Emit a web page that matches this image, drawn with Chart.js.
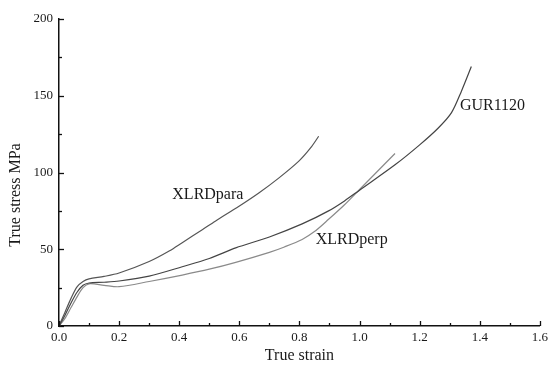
<!DOCTYPE html>
<html><head><meta charset="utf-8">
<script src="https://cdn.jsdelivr.net/npm/chart.js@4/dist/chart.umd.min.js"></script>
<style>html,body{margin:0;padding:0;background:#fff}#wrap{width:552px;height:367px}</style>
</head><body><div id="wrap"><canvas id="c" width="552" height="367"></canvas></div>
<script>
// ---- data ----
const strainPara = [0, 0.02, 0.04, 0.06, 0.08, 0.10, 0.15, 0.20, 0.30, 0.368, 0.41, 0.478, 0.52, 0.599, 0.666, 0.732, 0.798, 0.837, 0.864];
const stressPara = [0, 9, 18, 25.5, 29, 30.7, 32.3, 34.5, 42, 49, 54.3, 62.9, 68.3, 78, 86.8, 96.5, 107.4, 116, 123.6];

const strainGur = [0, 0.02, 0.04, 0.06, 0.08, 0.10, 0.15, 0.20, 0.30, 0.41, 0.50, 0.588, 0.70, 0.809, 0.897, 0.95, 1.0, 1.118, 1.20, 1.262, 1.306, 1.339, 1.372];
const stressGur = [0, 7, 15, 22, 26.5, 28, 28.5, 29.3, 32.5, 38.6, 44, 50.9, 58, 66.5, 75, 81.5, 88.5, 105, 118, 129, 139, 153, 169];

const strainPerp = [0, 0.02, 0.04, 0.06, 0.08, 0.10, 0.15, 0.20, 0.30, 0.41, 0.50, 0.588, 0.70, 0.75, 0.809, 0.85, 0.897, 0.95, 1.0, 1.118];
const stressPerp = [0, 5, 12, 19, 25, 27.5, 26.5, 25.6, 29, 33.2, 37, 41.5, 48, 51.5, 56.4, 61.5, 69.5, 79, 88.9, 112.4];

const seriesNames = ['XLRDpara', 'GUR1120', 'XLRDperp'];
const labelStrain = [0.377, 1.334, 0.854];
const labelStress = [85.7, 143.6, 56.4];

const xMin = 0, xMax = 1.6, xStep = 0.1;
const yMin = 0, yMax = 200, yStep = 25;
const xTitle = 'True strain';
const yTitle = 'True stress MPa';

// ---- build ----
const pts = (xs, ys) => xs.map((v, i) => ({x: v, y: ys[i]}));
const FONT = "'Liberation Serif', 'Times New Roman', serif";

const inwardTicks = {
  id: 'inwardTicks',
  afterDraw(chart) {
    const ctx = chart.ctx, xs = chart.scales.x, ys = chart.scales.y, a = chart.chartArea;
    ctx.save();
    ctx.strokeStyle = '#111';
    ctx.lineWidth = 1.3;
    xs.ticks.forEach(t => {
      const px = Math.round(xs.getPixelForValue(t.value)) + 0.5;
      const major = Math.round(t.value * 10) % 2 === 0;
      const len = major ? 5 : 3;
      ctx.beginPath(); ctx.moveTo(px, a.bottom); ctx.lineTo(px, a.bottom - len); ctx.stroke();
    });
    ys.ticks.forEach(t => {
      const py = Math.round(ys.getPixelForValue(t.value)) + 0.5;
      const major = Math.round(t.value) % 50 === 0;
      const len = major ? 5 : 3;
      ctx.beginPath(); ctx.moveTo(a.left, py); ctx.lineTo(a.left + len, py); ctx.stroke();
    });
    // y axis title
    ctx.fillStyle = '#1a1a1a';
    ctx.font = '16px ' + FONT;
    ctx.textAlign = 'center';
    ctx.textBaseline = 'middle';
    ctx.translate(16, 195);
    ctx.rotate(-Math.PI / 2);
    ctx.fillText(yTitle, 0, 0);
    ctx.restore();
  }
};

const curveLabels = {
  id: 'curveLabels',
  afterDatasetsDraw(chart) {
    const ctx = chart.ctx, xs = chart.scales.x, ys = chart.scales.y;
    ctx.save();
    ctx.fillStyle = '#1a1a1a';
    ctx.font = '16px ' + FONT;
    ctx.textAlign = 'left';
    ctx.textBaseline = 'middle';
    seriesNames.forEach((n, i) => {
      ctx.fillText(n, xs.getPixelForValue(labelStrain[i]), ys.getPixelForValue(labelStress[i]));
    });
    ctx.restore();
  }
};

const lineDs = (label, data, color, w) => ({
  label, data, borderColor: color, borderWidth: w, pointRadius: 0,
  fill: false, tension: 0.3
});

new Chart(document.getElementById('c'), {
  type: 'line',
  data: {
    datasets: [
      lineDs(seriesNames[0], pts(strainPara, stressPara), '#555', 1.2),
      lineDs(seriesNames[1], pts(strainGur, stressGur), '#444', 1.2),
      lineDs(seriesNames[2], pts(strainPerp, stressPerp), '#8a8a8a', 1.2)
    ]
  },
  options: {
    responsive: false,
    animation: false,
    layout: {padding: {top: 19, right: 9, left: 0, bottom: 0}},
    plugins: {legend: {display: false}, tooltip: {enabled: false}},
    scales: {
      x: {
        type: 'linear', min: xMin, max: xMax,
        afterFit: s => { s.height = 41; },
        grid: {display: true, drawOnChartArea: false, drawTicks: false},
        border: {display: true, color: '#111', width: 1.5},
        ticks: {
          stepSize: xStep, autoSkip: false, maxRotation: 0, padding: 4,
          color: '#1a1a1a', font: {family: FONT, size: 13},
          callback: v => (Math.round(v * 10) % 2 === 0 ? Number(v).toFixed(1) : '')
        },
        title: {display: true, text: xTitle, color: '#1a1a1a', font: {family: FONT, size: 16}, padding: {top: 0, bottom: 2}}
      },
      y: {
        type: 'linear', min: yMin, max: yMax,
        afterFit: s => { s.width = 59; },
        grid: {display: true, drawOnChartArea: false, drawTicks: false},
        border: {display: true, color: '#111', width: 1.5},
        ticks: {
          stepSize: yStep, autoSkip: false, padding: 6,
          color: '#1a1a1a', font: {family: FONT, size: 13},
          callback: v => (Math.round(v) % 50 === 0 ? String(v) : '')
        }
      }
    }
  },
  plugins: [inwardTicks, curveLabels]
});
</script>
</body></html>
